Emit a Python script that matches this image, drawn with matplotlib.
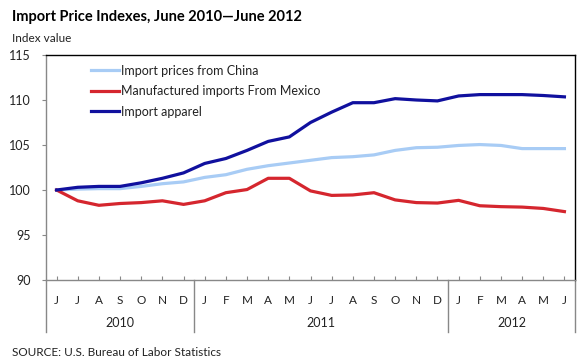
import matplotlib
matplotlib.use('Agg')
import matplotlib.pyplot as plt
import matplotlib.transforms as mtransforms

plt.rcParams['font.family'] = ['Lato', 'DejaVu Sans']

months = ['J', 'J', 'A', 'S', 'O', 'N', 'D',
          'J', 'F', 'M', 'A', 'M', 'J', 'J', 'A', 'S', 'O', 'N', 'D',
          'J', 'F', 'M', 'A', 'M', 'J']
years = ['2010', '2011', '2012']
year_counts = [7, 12, 6]

china = [100.0, 100.1, 100.15, 100.15, 100.4, 100.7, 100.9,
         101.4, 101.7, 102.3, 102.7, 103.0, 103.3, 103.6, 103.7, 103.9, 104.4, 104.7, 104.75,
         104.95, 105.05, 104.95, 104.6, 104.6, 104.6]
mexico = [100.0, 98.8, 98.3, 98.5, 98.6, 98.8, 98.4,
          98.8, 99.7, 100.05, 101.3, 101.3, 99.9, 99.4, 99.45, 99.7, 98.9, 98.6, 98.55,
          98.85, 98.25, 98.15, 98.1, 97.95, 97.6]
apparel = [100.0, 100.3, 100.4, 100.4, 100.8, 101.3, 101.9,
           102.95, 103.5, 104.4, 105.4, 105.9, 107.5, 108.65, 109.7, 109.7, 110.15, 110.0, 109.9,
           110.45, 110.6, 110.6, 110.6, 110.5, 110.35]

x = list(range(len(months)))

fig = plt.figure(figsize=(5.8, 3.6), dpi=100)
ax = fig.add_axes([46/580, 80/360, 529/580, 225/360])

ax.plot(x, china, color='#a8ccf5', lw=2.3, label='Import prices from China')
ax.plot(x, mexico, color='#d5262e', lw=2.3, label='Manufactured imports From Mexico')
ax.plot(x, apparel, color='#10109e', lw=2.3, label='Import apparel')

ax.set_xlim(-0.5, len(months) - 0.5)
ax.set_ylim(90, 115)
ax.set_yticks([90, 95, 100, 105, 110, 115])
ax.set_xticks(x)
ax.set_xticklabels(months)

ax.tick_params(axis='y', direction='out', length=3, color='#888888',
               labelsize=9, labelcolor='#222222', pad=8)
ax.tick_params(axis='x', direction='in', length=3, color='#888888',
               labelsize=8.5, labelcolor='#222222', pad=11)

for s in ['top', 'right']:
    ax.spines[s].set_color('black')
    ax.spines[s].set_linewidth(1.0)
for s in ['left', 'bottom']:
    ax.spines[s].set_color('#888888')
    ax.spines[s].set_linewidth(1.0)

# year group separators and labels below the axis
trans = mtransforms.blended_transform_factory(ax.transData, ax.transAxes)
start = -0.5
bounds = [start]
for n in year_counts:
    bounds.append(bounds[-1] + n)
for b in bounds:
    ax.plot([b, b], [0, -52/225], color='#888888', lw=1.0, transform=trans, clip_on=False)
for i, yr in enumerate(years):
    mid = (bounds[i] + bounds[i + 1]) / 2
    ax.text(mid, -43/225, yr, transform=trans, ha='center', va='center',
            fontsize=9, color='#222222')

leg = ax.legend(loc='upper left', bbox_to_anchor=(0.07, 0.99), frameon=False,
                fontsize=9, handlelength=2.3, handletextpad=0.1, labelspacing=0.68,
                borderaxespad=0.2)
for t in leg.get_texts():
    t.set_color('#222222')

fig.text(12/580, 1 - 17/360, 'Import Price Indexes, June 2010\u2014June 2012',
         fontsize=10.5, fontweight='bold', va='center', ha='left', color='black')
fig.text(12/580, 1 - 38/360, 'Index value', fontsize=8.5, va='center', ha='left',
         color='#222222')
fig.text(12/580, 1 - 352/360, 'SOURCE: U.S. Bureau of Labor Statistics', fontsize=8.5,
         va='center', ha='left', color='#222222')

fig.savefig('out.png', dpi=100)
